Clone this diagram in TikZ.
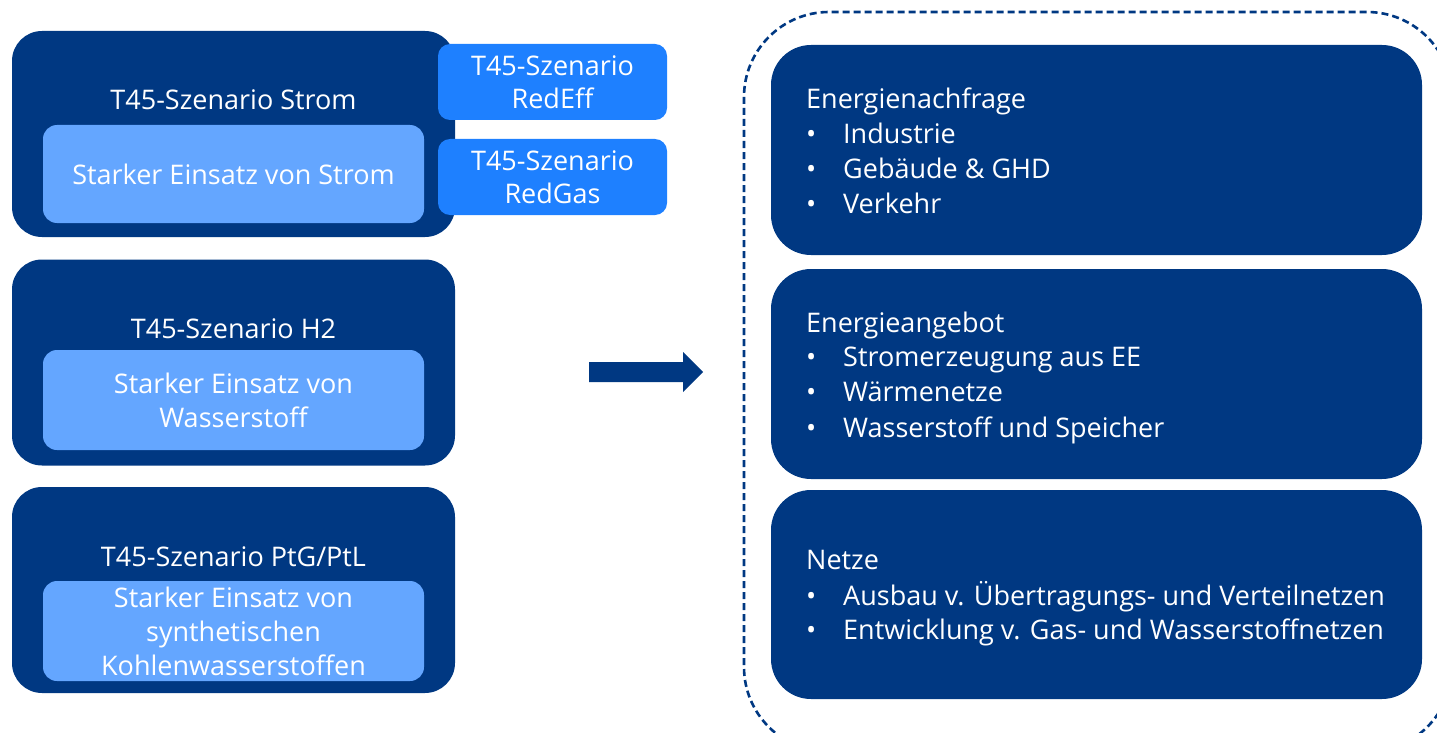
\documentclass[tikz,border=0pt]{standalone}
\usepackage{fontspec}
\setmainfont{Open Sans}
\definecolor{navy}{RGB}{0,56,130}
\definecolor{lightb}{RGB}{100,166,255}
\definecolor{midb}{RGB}{30,128,255}
\tikzset{
  outerbox/.style={fill=navy, rounded corners=30pt, minimum width=443pt, minimum height=206pt, inner sep=0pt},
  innerbox/.style={fill=lightb, rounded corners=14pt, minimum width=381pt, minimum height=98pt, inner sep=0pt, text=white, align=center, font=\fontsize{27}{34}\selectfont},
  sidebox/.style={fill=midb, rounded corners=12pt, minimum width=229pt, minimum height=76pt, inner sep=0pt, text=white, align=center, font=\fontsize{27}{33.5}\selectfont},
  titletxt/.style={text=white, font=\fontsize{27}{34}\selectfont, inner sep=0pt},
  rightbox/.style={fill=navy, rounded corners=40pt, minimum width=651pt, minimum height=210pt, inner sep=0pt},
  listtxt/.style={text=white, font=\fontsize{27}{34}\selectfont, inner sep=0pt, anchor=base west},
}
\newcommand{\bul}{\textbullet}
\begin{document}
\begin{tikzpicture}[x=1pt,y=-1pt]
\useasboundingbox (0,0) rectangle (1437,733);
% dashed frame
\begin{scope}
\clip (0,0) rectangle (1437,733);
\draw[navy, line width=2.6pt, dash pattern=on 7pt off 4pt, rounded corners=85pt] (744,12) rectangle (1452,752);
\end{scope}
% left column
\node[outerbox] (b1) at (233.5,134) {};
\node[titletxt] (t1) at (233.5,100) {T45-Szenario Strom};
\node[innerbox] (i1) at (233.5,174) {Starker Einsatz von Strom};
\node[sidebox] (re) at (552.5,82) {T45-Szenario\\RedEff};
\node[sidebox] (rg) at (552.5,177) {T45-Szenario\\RedGas};

\node[outerbox] (b2) at (233.5,362.5) {};
\node[titletxt] (t2) at (233.5,329) {T45-Szenario H2};
\node[innerbox, minimum height=100pt] (i2) at (233.5,400) {Starker Einsatz von\\Wasserstoff};

\node[outerbox] (b3) at (233.5,590) {};
\node[titletxt] (t3) at (233.5,557) {T45-Szenario PtG/PtL};
\node[innerbox, minimum height=100pt] (i3) at (233.5,631) {Starker Einsatz von\\synthetischen\\Kohlenwasserstoffen};

% arrow
\fill[navy] (589,362) -- (683,362) -- (683,352) -- (703,372) -- (683,392) -- (683,382) -- (589,382) -- cycle;

% right column
\node[rightbox] (r1) at (1096.5,150) {};
\node[rightbox] (r2) at (1096.5,374) {};
\node[rightbox, minimum height=209pt] (r3) at (1096.5,594.5) {};

\node[listtxt] (h1) at (806,109) {Energienachfrage};
\node[listtxt] (h1a) at (806,143) {\bul};
\node[listtxt] (h1at) at (843,143) {Industrie};
\node[listtxt] (h1b) at (806,178) {\bul};
\node[listtxt] (h1bt) at (843,178) {Gebäude \& GHD};
\node[listtxt] (h1c) at (806,213) {\bul};
\node[listtxt] (h1ct) at (843,213) {Verkehr};

\node[listtxt] (h2) at (806,332) {Energieangebot};
\node[listtxt] (h2a) at (806,366) {\bul};
\node[listtxt] (h2at) at (843,366) {Stromerzeugung aus EE};
\node[listtxt] (h2b) at (806,401) {\bul};
\node[listtxt] (h2bt) at (843,401) {Wärmenetze};
\node[listtxt] (h2c) at (806,437) {\bul};
\node[listtxt] (h2ct) at (843,437) {Wasserstoff und Speicher};

\node[listtxt] (h3) at (806,569) {Netze};
\node[listtxt] (h3a) at (806,605) {\bul};
\node[listtxt] (h3at) at (843,605) {Ausbau v. Übertragungs- und Verteilnetzen};
\node[listtxt] (h3b) at (806,639) {\bul};
\node[listtxt] (h3bt) at (843,639) {Entwicklung v. Gas- und Wasserstoffnetzen};
\end{tikzpicture}
\end{document}
